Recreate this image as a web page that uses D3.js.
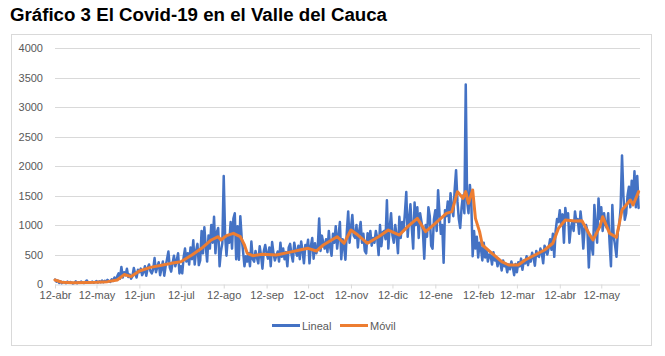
<!DOCTYPE html>
<html><head><meta charset="utf-8">
<script src="https://cdn.jsdelivr.net/npm/d3@7"></script>
<style>
html,body{margin:0;padding:0;background:#fff;}
svg{display:block;}
</style></head>
<body>
<svg id="c" width="665" height="356"></svg>
<script>
// ---------- DATA ----------
const title = "Gráfico 3 El Covid-19 en el Valle del Cauca";
const startDate = "2020-04-12"; // daily series, one value per day
const lineal = [
  75,40,60,20,45,15,35,
  30,15,40,20,35,25,10,
  20,45,15,30,25,40,20,
  15,35,60,20,30,25,40,
  20,35,50,25,45,30,60,
  30,55,40,70,45,35,80,
  50,110,70,130,180,90,290,
  110,200,150,260,120,160,90,
  130,270,170,110,240,200,260,
  150,200,300,140,270,330,220,
  180,250,440,200,290,370,150,
  260,380,140,300,420,550,280,
  210,350,480,300,400,520,180,
  300,180,450,600,380,520,330,
  620,420,740,330,560,680,320,
  400,900,520,960,640,380,820,
  600,1000,700,1140,520,880,950,
  300,560,690,1830,820,480,800,
  700,1050,600,1110,1200,420,980,
  410,1150,780,550,300,470,380,
  520,300,720,420,380,560,450,
  350,640,480,260,560,660,520,
  430,620,300,710,520,400,480,
  550,380,700,460,600,420,540,
  300,620,680,500,380,700,560,
  480,650,420,720,560,350,660,
  600,750,350,640,780,430,690,
  520,620,1110,560,820,700,600,
  760,540,900,620,480,850,700,
  980,600,820,1050,420,760,640,
  410,880,1230,700,950,1170,820,
  780,1000,620,900,1050,700,850,
  560,520,860,720,900,650,780,
  700,900,780,490,1000,640,880,
  900,760,1420,600,950,1200,820,
  700,1000,820,520,1140,780,1050,
  900,1200,1560,800,1100,1350,950,
  600,1380,1000,1300,780,1200,1050,
  900,430,1000,800,1300,1150,650,
  600,1100,1250,900,1590,1200,850,
  1000,360,1250,1150,1400,1050,1540,
  1300,1150,1600,1930,1400,1100,950,
  1300,1500,1200,3380,1400,1200,1680,
  1400,470,900,600,800,450,700,
  600,400,700,450,580,380,500,
  480,330,540,400,450,300,420,
  360,230,400,300,340,200,330,
  250,380,290,150,340,200,370,
  300,430,240,400,350,470,320,
  430,380,530,450,310,560,480,
  460,600,520,350,650,560,500,
  620,760,580,850,460,900,1100,
  1050,1250,1000,1180,700,1290,1100,
  1200,700,950,1050,900,1230,1050,
  1100,850,1230,1000,600,950,1000,
  900,280,800,650,500,1340,1000,
  700,1450,1100,1300,900,1200,1000,
  950,1200,700,300,1340,800,650,
  460,900,1000,1300,2180,1500,1090,
  1200,1500,1650,1300,1750,1400,1910,
  1300,1830,1290
];
const movilDates = [
  "2020-04-12","2020-04-17","2020-04-25","2020-05-05","2020-05-12","2020-05-20","2020-05-27",
  "2020-06-01","2020-06-06","2020-06-12","2020-06-20","2020-06-29","2020-07-05","2020-07-12",
  "2020-07-20","2020-07-27","2020-08-03","2020-08-08","2020-08-10","2020-08-14","2020-08-19",
  "2020-08-24","2020-08-27","2020-08-29","2020-09-02","2020-09-09","2020-09-19","2020-09-29",
  "2020-10-06","2020-10-12","2020-10-18","2020-10-23","2020-11-02","2020-11-07","2020-11-12",
  "2020-11-17","2020-11-24","2020-12-02","2020-12-09","2020-12-17","2020-12-23","2020-12-30",
  "2021-01-05","2021-01-12","2021-01-20","2021-01-24","2021-01-28","2021-02-01","2021-02-03",
  "2021-02-05","2021-02-08","2021-02-10","2021-02-13","2021-02-15","2021-02-22","2021-03-01",
  "2021-03-06","2021-03-13","2021-03-18","2021-03-25","2021-04-01","2021-04-07","2021-04-11",
  "2021-04-16","2021-04-23","2021-04-28","2021-05-03","2021-05-06","2021-05-11","2021-05-13",
  "2021-05-18","2021-05-23","2021-05-27","2021-06-02","2021-06-04","2021-06-08"
];
const movilValues = [
  68,30,20,25,29,40,68,
  160,126,220,282,322,350,378,
  491,605,746,802,746,819,859,
  802,661,520,480,503,491,540,
  576,605,559,661,802,690,915,
  830,690,802,915,830,972,1113,
  887,1028,1198,1226,1565,1452,1565,
  1367,1593,1113,887,661,520,378,
  322,322,407,491,576,690,943,
  1085,1068,1073,859,746,972,1141,
  859,791,1254,1424,1339,1565
];
const yTicks = [0,500,1000,1500,2000,2500,3000,3500,4000];
const xTickDates = ["2020-04-12","2020-05-12","2020-06-12","2020-07-12","2020-08-12","2020-09-12","2020-10-12",
  "2020-11-12","2020-12-12","2021-01-12","2021-02-12","2021-03-12","2021-04-12","2021-05-12"];
const xTickLabels = ["12-abr","12-may","12-jun","12-jul","12-ago","12-sep","12-oct","12-nov","12-dic","12-ene","12-feb","12-mar","12-abr","12-may"];
const seriesNames = ["Lineal","Móvil"];
const colors = ["#4472C4","#ED7D31"];

// ---------- LAYOUT ----------
const svg = d3.select("#c");
const parse = d3.utcParse("%Y-%m-%d");
const day0 = parse(startDate);
const linealData = lineal.map((v,i)=>({d:d3.utcDay.offset(day0,i), v}));
const movilData = movilDates.map((s,i)=>({d:parse(s), v:movilValues[i]}));

const x = d3.scaleUtc().domain([parse("2020-04-12"), parse("2021-06-09")]).range([55, 640]);
const y = d3.scaleLinear().domain([0,4000]).range([284, 48]);

const font = "'Liberation Sans', Arial, sans-serif";
const txtColor = "#595959";

// title
svg.append("text").attr("x",10).attr("y",21).attr("font-family",font).attr("font-weight","bold")
  .attr("font-size",18.7).attr("fill","#000").text(title);

// chart border
svg.append("rect").attr("x",11.5).attr("y",34.5).attr("width",640).attr("height",311)
  .attr("fill","#fff").attr("stroke","#d9d9d9").attr("stroke-width",1);

// gridlines
svg.append("g").selectAll("line").data(yTicks.filter(t=>t>0)).join("line")
  .attr("x1",55).attr("x2",640).attr("y1",d=>Math.round(y(d))+0.5).attr("y2",d=>Math.round(y(d))+0.5)
  .attr("stroke","#d9d9d9").attr("stroke-width",1);

// y axis labels
const yAxis = d3.axisLeft(y).tickValues(yTicks).tickSize(0).tickPadding(0).tickFormat(d3.format("d"));
const gy = svg.append("g").attr("transform","translate(43,0)").call(yAxis);
gy.select(".domain").remove();
gy.selectAll("text").attr("font-family",font).attr("font-size",11).attr("fill",txtColor);

// x axis
const xAxis = d3.axisBottom(x).tickValues(xTickDates.map(parse)).tickSize(4).tickPadding(3)
  .tickFormat((d,i)=>xTickLabels[i]);
const gx = svg.append("g").attr("transform","translate(0,284.5)").call(xAxis);
gx.select(".domain").attr("stroke","#d9d9d9").attr("d","M55,0.5H640");
gx.selectAll(".tick line").attr("stroke","#d9d9d9");
gx.selectAll("text").attr("font-family",font).attr("font-size",11).attr("fill",txtColor);

// lines
const line = d3.line().x(p=>x(p.d)).y(p=>y(p.v)).curve(d3.curveLinear);
svg.append("path").datum(linealData).attr("d",line).attr("fill","none")
  .attr("stroke",colors[0]).attr("stroke-width",2.5).attr("stroke-linejoin","round").attr("stroke-linecap","round");
svg.append("path").datum(movilData).attr("d",line).attr("fill","none")
  .attr("stroke",colors[1]).attr("stroke-width",3).attr("stroke-linejoin","round").attr("stroke-linecap","round");

// legend
const leg = svg.append("g");
const legX = [272, 340];
seriesNames.forEach((n,i)=>{
  leg.append("line").attr("x1",legX[i]).attr("x2",legX[i]+28).attr("y1",325.5).attr("y2",325.5)
    .attr("stroke",colors[i]).attr("stroke-width",3);
  leg.append("text").attr("x",legX[i]+30).attr("y",329.5).attr("font-family",font).attr("font-size",11)
    .attr("fill",txtColor).text(n);
});
</script>
</body></html>
